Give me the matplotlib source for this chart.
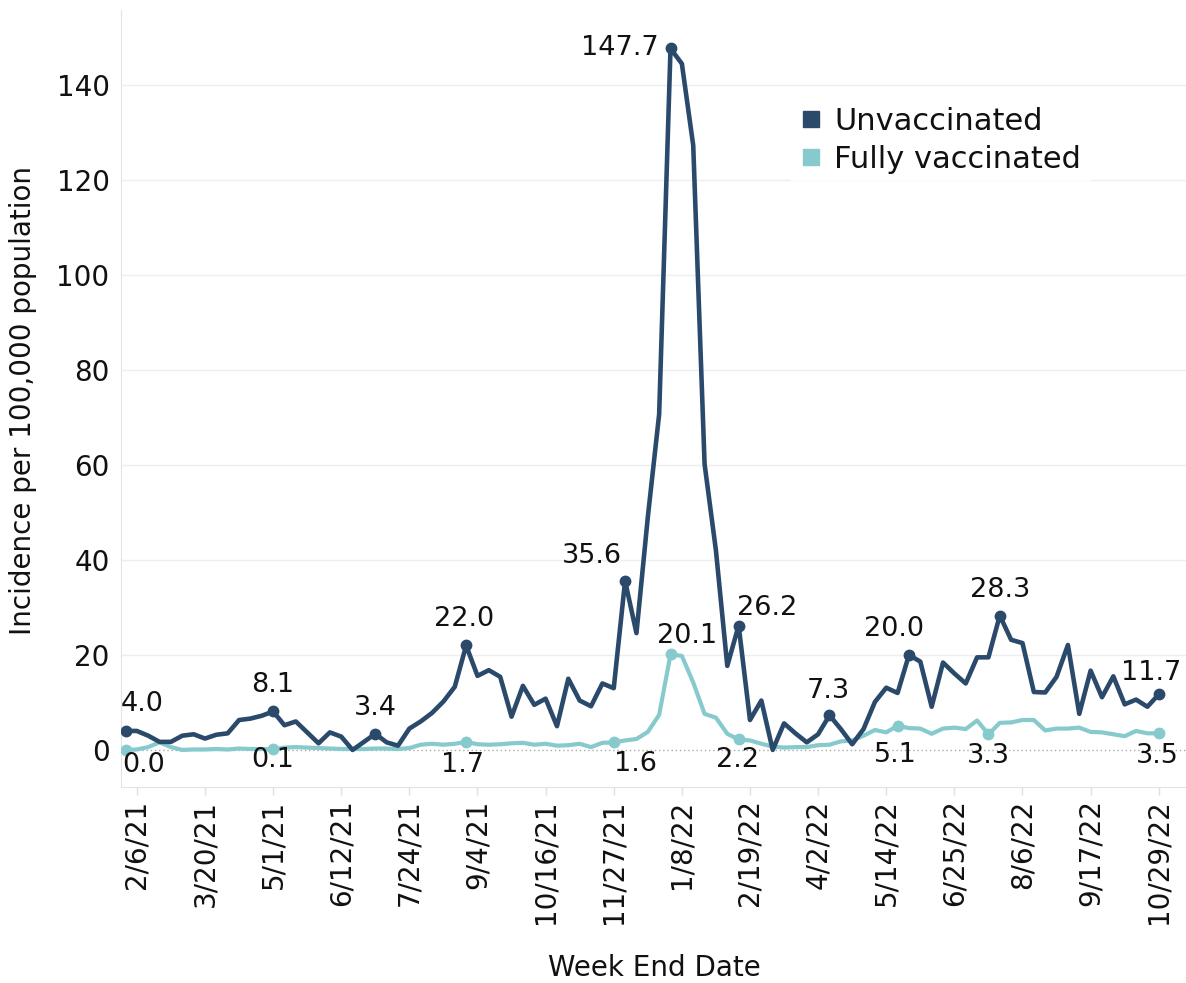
import numpy as np
import pandas as pd
import matplotlib
matplotlib.use('Agg')
import matplotlib.pyplot as plt
from matplotlib.lines import Line2D

#%% DATA

weeks = pd.date_range('2021-01-30', periods=92, freq='7D')

unvaccinated = [4.0, 4.0, 3.0, 1.7, 1.7, 3.0, 3.3, 2.4, 3.2, 3.5,
                6.3, 6.6, 7.2, 8.1, 5.2, 6.0, 3.7, 1.4, 3.7, 2.8,
                0.0, 1.7, 3.4, 1.6, 0.9, 4.5, 6.0, 7.8, 10.2, 13.3,
                22.0, 15.6, 16.8, 15.4, 7.0, 13.5, 9.5, 10.8, 5.0, 15.0,
                10.4, 9.2, 14.0, 13.0, 35.6, 24.6, 49.0, 70.7, 147.7, 144.5,
                127.3, 60.2, 42.0, 17.7, 26.2, 6.3, 10.4, 0.0, 5.6, 3.5,
                1.6, 3.3, 7.3, 4.4, 1.2, 4.4, 10.1, 13.1, 12.0, 20.0,
                18.6, 9.1, 18.4, 16.1, 14.0, 19.5, 19.5, 28.3, 23.2, 22.5,
                12.2, 12.1, 15.4, 22.1, 7.6, 16.7, 11.1, 15.5, 9.6, 10.6,
                9.1, 11.7]

fully_vaccinated = [0.0, 0.1, 0.6, 1.6, 0.6, 0.0, 0.1, 0.1, 0.2, 0.1,
                    0.3, 0.2, 0.2, 0.1, 0.5, 0.6, 0.5, 0.4, 0.3, 0.2,
                    0.2, 0.2, 0.3, 0.3, 0.2, 0.4, 1.1, 1.3, 1.1, 1.3,
                    1.7, 1.2, 1.1, 1.2, 1.4, 1.5, 1.1, 1.3, 0.9, 1.0,
                    1.3, 0.6, 1.5, 1.6, 2.0, 2.3, 3.8, 7.4, 20.1, 19.8,
                    14.2, 7.6, 6.8, 3.4, 2.2, 2.0, 1.3, 0.7, 0.5, 0.6,
                    0.6, 1.0, 1.1, 1.8, 2.0, 3.0, 4.2, 3.7, 5.1, 4.6,
                    4.5, 3.4, 4.5, 4.7, 4.4, 6.2, 3.3, 5.7, 5.8, 6.3,
                    6.3, 4.1, 4.5, 4.5, 4.7, 3.8, 3.7, 3.3, 2.9, 4.0,
                    3.5, 3.5]

tick_dates = weeks[1::6]
tick_labels = [f'{d.month}/{d.day}/{d.year % 100}' for d in tick_dates]

# labelled weeks (index into weeks)
unvax_marks = [0, 13, 22, 30, 44, 48, 54, 62, 69, 77, 91]
vax_marks = [0, 13, 30, 43, 48, 54, 68, 76, 91]

# label placement: ha, dx px, dy px
unvax_pos = {0: ('left', -5, 27), 13: ('center', 0, 26), 22: ('center', 0, 26),
             30: ('center', -2, 26), 44: ('right', -3, 25), 48: ('right', -12, 0),
             54: ('left', -2, 18), 62: ('center', -1, 24), 69: ('center', -15, 26),
             77: ('center', 0, 26), 91: ('center', -8, 21)}
vax_pos = {0: ('left', -3, -15), 13: ('center', 0, -11), 30: ('center', -4, -23),
           43: ('left', 0, -22), 48: ('center', 17, 18), 54: ('center', -1, -21),
           68: ('center', -2, -29), 76: ('center', 0, -22), 91: ('center', -1, -23)}

c_unvax = '#2b4a6b'
c_vax = '#86cacd'

#%% PLOT

fig = plt.figure(figsize=(11.86, 9.83), dpi=100)
ax = fig.add_axes([0.1018, 0.1994, 0.8982, 0.7904])

ax.plot(weeks, fully_vaccinated, color=c_vax, lw=3.0, solid_joinstyle='round', zorder=3)
ax.plot(weeks, unvaccinated, color=c_unvax, lw=3.3, solid_joinstyle='round', zorder=4)

ax.plot(weeks[vax_marks], [fully_vaccinated[i] for i in vax_marks], 'o', color=c_vax, ms=7.5, zorder=3)
ax.plot(weeks[unvax_marks], [unvaccinated[i] for i in unvax_marks], 'o', color=c_unvax, ms=7.5, zorder=4)

for i in unvax_marks:
    ha, dx, dy = unvax_pos[i]
    ax.annotate(f'{unvaccinated[i]:.1f}', xy=(weeks[i], unvaccinated[i]), xytext=(dx*0.72, dy*0.72),
                textcoords='offset points', ha=ha, va='center', fontsize=19.5, color='#111111', zorder=6)
for i in vax_marks:
    ha, dx, dy = vax_pos[i]
    ax.annotate(f'{fully_vaccinated[i]:.1f}', xy=(weeks[i], fully_vaccinated[i]), xytext=(dx*0.72, dy*0.72),
                textcoords='offset points', ha=ha, va='center', fontsize=19.5, color='#111111', zorder=6)

week = pd.Timedelta(days=7)
ax.set_xlim(weeks[0] - 0.42*week, weeks[0] + 93.4*week)
ax.set_ylim(-7.8, 155.8)

ax.set_yticks(np.arange(0, 141, 20))
ax.set_xticks(tick_dates)
ax.set_xticklabels(tick_labels, rotation=90, va='top')
ax.tick_params(axis='x', length=6, color='#e0e0e0', width=1, pad=3, labelsize=20, labelcolor='#111111')
ax.tick_params(axis='y', length=0, pad=8, labelsize=20, labelcolor='#111111')

for y in range(20, 141, 20):
    ax.axhline(y, color='#eeeeee', lw=1, zorder=1)
ax.axhline(0, color='#aaaaaa', lw=1, ls=(0, (1, 2)), zorder=2)

for s in ['top', 'right']:
    ax.spines[s].set_visible(False)
for s in ['left', 'bottom']:
    ax.spines[s].set_color('#e3e3e3')

handles = [Line2D([], [], marker='s', ls='', color=c_unvax, ms=12),
           Line2D([], [], marker='s', ls='', color=c_vax, ms=12)]
leg = ax.legend(handles, ['Unvaccinated', 'Fully vaccinated'], loc='upper left',
                bbox_to_anchor=(0.615, 0.907), fontsize=22, frameon=True, fancybox=False,
                handlelength=0.7, handletextpad=0.4, labelspacing=0.3, borderpad=0.3,
                labelcolor='#111111')
leg.get_frame().set_facecolor('white')
leg.get_frame().set_edgecolor('white')

fig.text(0.0194, 0.593, 'Incidence per 100,000 population', rotation=90, ha='center', va='center',
         fontsize=20, color='#111111')
fig.text(0.552, 0.0153, 'Week End Date', ha='center', va='center', fontsize=20, color='#111111')

fig.savefig('out.png', dpi=100)
